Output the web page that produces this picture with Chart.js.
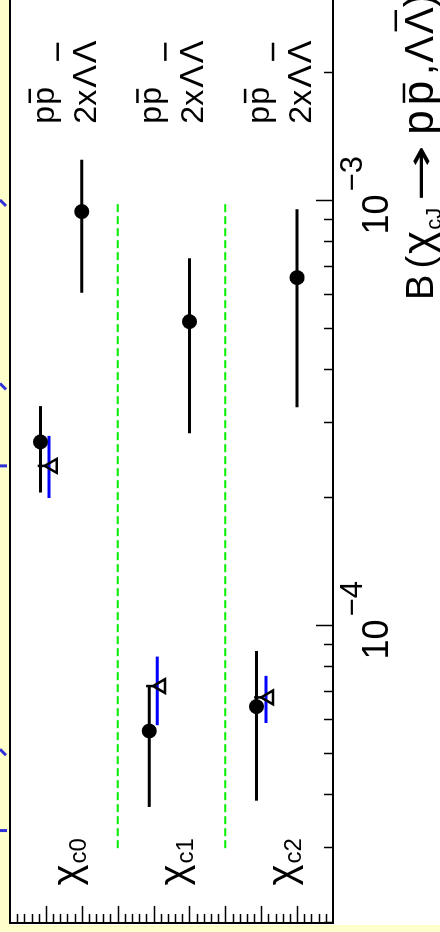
<!DOCTYPE html>
<html>
<head>
<meta charset="utf-8">
<script src="https://cdn.jsdelivr.net/npm/chart.js@4.4.1/dist/chart.umd.min.js"></script>
<style>
html, body { margin: 0; padding: 0; background: #ffffcc; overflow: hidden; width: 440px; height: 932px; }
/* the plot is drawn upright (932x440) and turned a quarter turn, like the scan */
#wrap { position: absolute; left: 0; top: 0; width: 932px; height: 440px;
        transform-origin: 0 0; transform: translateY(932px) rotate(-90deg); }
canvas { display: block; }
</style>
</head>
<body>
<div id="wrap"><canvas id="chart" width="932" height="440"></canvas></div>
<script>
// category rows (0 = bottom, 9 = top of the upright plot)
const groupNames = ['c0', 'c1', 'c2'];

// p pbar, filled circles
const ppRow  = [7, 4, 1];
const ppVal  = [9.44e-4, 5.20e-4, 6.60e-4];
const ppLow  = [6.08e-4, 2.84e-4, 3.27e-4];
const ppHigh = [1.25e-3, 7.33e-4, 9.56e-4];

// Lambda Lambdabar, filled circles
const llRow  = [8.15, 5.12, 2.13];
const llVal  = [2.71e-4, 5.66e-5, 6.46e-5];
const llLow  = [2.06e-4, 3.75e-5, 3.88e-5];
const llHigh = [3.29e-4, 7.22e-5, 8.73e-5];

// Lambda Lambdabar, open triangles with blue errors
const triRow    = [7.81, 4.79, 1.78];
const triVal    = [2.38e-4, 7.22e-5, 6.79e-5];
const triBarRow = [7.91, 4.90, 1.87];
const triLow    = [2.00e-4, 5.84e-5, 5.91e-5];
const triHigh   = [2.80e-4, 8.47e-5, 7.63e-5];

// dashed separators
const sepRows = [6, 3];
const sepFrom = 3e-5;
const sepTo = 1e-3;

// axes
const xMin = 2e-5, xMax = 2.97e-3;
const yMin = 0, yMax = 9;
const decadeTicks = [1e-4, 1e-3];
const decadeExp = ['4', '3'];
const minorDecades = [1e-5, 1e-4, 1e-3];
const minorMantissa = [2, 3, 4, 5, 6, 7, 8, 9];

// blue fragments on the left edge of the scan
const decoVals = [1e-3, 3.7e-4, 2.38e-4, 5.1e-5, 3.3e-5];
const decoKind = ['d', 'd', 'h', 'd', 'h'];

const FONT = '"Liberation Sans", Arial, sans-serif';

function seg(ctx, x1, y1, x2, y2) {
    ctx.beginPath();
    ctx.moveTo(x1, y1);
    ctx.lineTo(x2, y2);
    ctx.stroke();
}

function drawRich(ctx, x, y, segs) {
    let cx = x;
    segs.forEach(s => {
        ctx.font = s.size + 'px ' + (s.font || FONT);
        let w = ctx.measureText(s.t).width;
        const by = y + (s.dy || 0);
        if (s.w) {
            // stretch to the given width
            ctx.save();
            ctx.translate(cx, by);
            ctx.scale(s.w / w, 1);
            ctx.fillText(s.t, 0, 0);
            ctx.restore();
            w = s.w;
        } else {
            ctx.fillText(s.t, cx, by);
        }
        if (s.bar) {
            ctx.lineWidth = 2.5;
            seg(ctx, cx + w * 0.1, by - s.size * s.bar, cx + w * 0.9, by - s.size * s.bar);
        }
        cx += w + (s.gap || 0);
    });
    return cx;
}

const drawPlugin = {
    id: 'drawPlugin',
    beforeDraw(chart) {
        const ctx = chart.ctx;
        ctx.save();
        ctx.fillStyle = '#ffffcc';
        ctx.fillRect(0, 0, chart.width, chart.height);
        ctx.fillStyle = '#ffffff';
        ctx.fillRect(7, 10, chart.width - 7, chart.height - 10);
        ctx.restore();
    },
    beforeDatasetsDraw(chart) {
        const ctx = chart.ctx;
        const xs = chart.scales.x, ys = chart.scales.y;
        ctx.save();
        // separators
        ctx.strokeStyle = '#00ee00';
        ctx.lineWidth = 2;
        ctx.setLineDash([8, 4]);
        sepRows.forEach(r => {
            const py = ys.getPixelForValue(r);
            seg(ctx, xs.getPixelForValue(sepFrom), py, xs.getPixelForValue(sepTo), py);
        });
        ctx.setLineDash([]);
        // error bars
        ctx.lineWidth = 3;
        for (let i = 0; i < 3; i++) {
            ctx.strokeStyle = '#0000ff';
            let py = ys.getPixelForValue(triBarRow[i]);
            seg(ctx, xs.getPixelForValue(triLow[i]), py, xs.getPixelForValue(triHigh[i]), py);
            ctx.strokeStyle = '#000000';
            py = ys.getPixelForValue(ppRow[i]);
            seg(ctx, xs.getPixelForValue(ppLow[i]), py, xs.getPixelForValue(ppHigh[i]), py);
            py = ys.getPixelForValue(llRow[i]);
            seg(ctx, xs.getPixelForValue(llLow[i]), py, xs.getPixelForValue(llHigh[i]), py);
        }
        // small stroke on each triangle apex
        ctx.lineWidth = 2.5;
        for (let i = 0; i < 3; i++) {
            const px = xs.getPixelForValue(triVal[i]);
            const py = ys.getPixelForValue(triRow[i]);
            seg(ctx, px, py - 8, px, py - 15);
        }
        ctx.restore();
    },
    afterDraw(chart) {
        const ctx = chart.ctx;
        const xs = chart.scales.x, ys = chart.scales.y;
        const a = chart.chartArea;
        ctx.save();
        // keep the cropped right edge of the plot clean
        ctx.fillStyle = '#ffffff';
        ctx.fillRect(a.right - 5, a.top + 2, 5, a.bottom - a.top - 4);
        ctx.strokeStyle = '#000000';
        ctx.fillStyle = '#000000';
        // frame: top, left axis, bottom axis
        ctx.lineWidth = 2;
        seg(ctx, a.left, a.top, a.right, a.top);
        seg(ctx, a.left, a.top - 1, a.left, a.bottom + 1);
        seg(ctx, a.left, a.bottom, a.right, a.bottom);
        // log axis ticks
        ctx.lineWidth = 1.5;
        minorDecades.forEach(d => {
            minorMantissa.forEach(m => {
                const v = d * m;
                if (v < xMin || v > xMax) return;
                const px = Math.round(xs.getPixelForValue(v)) + 0.5;
                seg(ctx, px, a.bottom, px, a.bottom - 9);
            });
        });
        ctx.textBaseline = 'alphabetic';
        ctx.textAlign = 'left';
        decadeTicks.forEach((v, i) => {
            const px = Math.round(xs.getPixelForValue(v)) + 0.5;
            seg(ctx, px, a.bottom, px, a.bottom - 17);
            ctx.font = '36px ' + FONT;
            const x0 = px - 34;
            ctx.fillText('10', x0, a.bottom + 55);
            const w = ctx.measureText('10').width;
            ctx.font = '31px ' + FONT;
            ctx.fillText('\u2212' + decadeExp[i], x0 + w + 3, a.bottom + 29);
        });
        // category axis ticks
        for (let k = 1; k < 45; k++) {
            const py = Math.round(ys.getPixelForValue(yMin + k * 0.2)) + 0.5;
            const len = (k % 5 === 0) ? 17 : 9;
            seg(ctx, a.left, py, a.left + len, py);
        }
        // axis title
        drawRich(ctx, xs.getPixelForValue(1e-3) - 99, a.bottom + 100, [
            { t: 'B', size: 38, gap: 6 },
            { t: '(', size: 38, gap: 2 },
            { t: '\u03c7', size: 44, gap: 1 },
            { t: 'cJ', size: 22, dy: 8, gap: 6 },
            { t: '\u2192', size: 38, font: '"DejaVu Sans", sans-serif', w: 57, gap: 10 },
            { t: 'p', size: 44, gap: 5 },
            { t: 'p', size: 44, bar: 0.66, gap: 6 },
            { t: ',', size: 40, gap: 1 },
            { t: '\u039b', size: 40, gap: 2 },
            { t: '\u039b', size: 40, bar: 0.93 },
            { t: ')', size: 40 }
        ]);
        // group labels
        for (let i = 0; i < 3; i++) {
            const py = ys.getPixelForValue(ppRow[i]);
            drawRich(ctx, xs.getPixelForValue(2.45e-5), py - 2, [
                { t: '\u03c7', size: 40, gap: 1 },
                { t: groupNames[i], size: 24, dy: 6 }
            ]);
            const lx = xs.getPixelForValue(1.52e-3);
            drawRich(ctx, lx, py - 28, [
                { t: 'p', size: 32, gap: 1 },
                { t: 'p', size: 32, bar: 0.75 }
            ]);
            drawRich(ctx, lx, py + 14, [
                { t: '2x', size: 32, gap: 2 },
                { t: '\u039b', size: 34, gap: 2 },
                { t: '\u039b', size: 34, bar: 1.12 }
            ]);
        }
        // blue fragments
        ctx.strokeStyle = '#3030d8';
        ctx.lineWidth = 3;
        decoVals.forEach((v, i) => {
            const px = xs.getPixelForValue(v);
            if (decoKind[i] === 'd') seg(ctx, px + 1, 0, px - 5, 6);
            else seg(ctx, px, 0, px, 7);
        });
        ctx.restore();
    }
};

function pts(vals, rows) {
    return vals.map((v, i) => ({ x: v, y: rows[i] }));
}

new Chart(document.getElementById('chart'), {
    type: 'scatter',
    data: {
        datasets: [
            {
                label: 'p pbar',
                data: pts(ppVal, ppRow),
                pointStyle: 'circle',
                pointRadius: 7.5,
                backgroundColor: '#000000',
                borderWidth: 0
            },
            {
                label: 'Lambda Lambdabar',
                data: pts(llVal, llRow),
                pointStyle: 'circle',
                pointRadius: 7.5,
                backgroundColor: '#000000',
                borderWidth: 0
            },
            {
                label: 'Lambda Lambdabar (other)',
                data: pts(triVal, triRow),
                pointStyle: 'triangle',
                pointRadius: 8,
                backgroundColor: 'rgba(255,255,255,0)',
                borderColor: '#000000',
                borderWidth: 2.5
            }
        ]
    },
    options: {
        responsive: false,
        devicePixelRatio: 1,
        animation: false,
        layout: { autoPadding: false, padding: { left: 9, top: 10, right: 0, bottom: 107 } },
        plugins: { legend: { display: false }, tooltip: { enabled: false } },
        scales: {
            x: { type: 'logarithmic', min: xMin, max: xMax, display: false },
            y: { type: 'linear', min: yMin, max: yMax, display: false }
        }
    },
    plugins: [drawPlugin]
});
</script>
</body>
</html>
